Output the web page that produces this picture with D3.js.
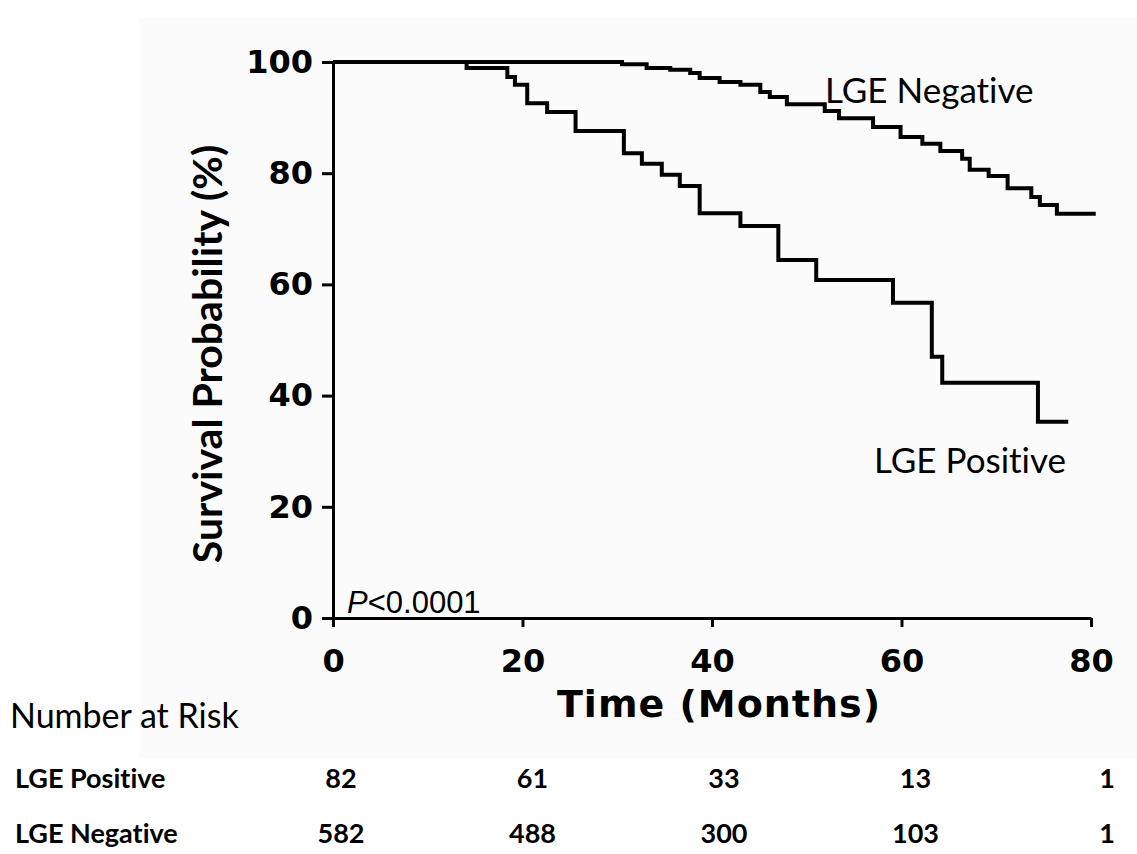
<!DOCTYPE html>
<html>
<head>
<meta charset="utf-8">
<script src="https://cdn.jsdelivr.net/npm/d3@7"></script>
<style>
  body { margin: 0; background: #fff; }
  svg { display: block; }
  text { font-variant-ligatures: none; }
</style>
</head>
<body>
<div id="chart"></div>
<script>
// survival curves (months, %)
const posTimes = [0, 14.1, 18.4, 19.2, 20.5, 22.6, 25.6, 30.7, 32.6, 34.7, 36.6, 38.7, 43.0, 47.0, 51.0, 59.1, 63.2, 64.3, 74.4, 77.6];
const posSurv = [100, 98.9, 97.3, 95.9, 92.6, 91.0, 87.6, 83.6, 81.7, 79.7, 77.7, 72.8, 70.5, 64.4, 60.8, 56.7, 47.0, 42.3, 35.3, 35.3];

const negTimes = [0, 30.5, 33.1, 35.6, 37.7, 38.7, 40.8, 43.0, 45.1, 46.1, 47.9, 51.9, 53.4, 57.0, 59.9, 62.2, 64.1, 66.4, 67.2, 69.2, 71.2, 73.7, 74.6, 76.4, 80.5];
const negSurv = [100, 99.6, 98.9, 98.6, 98.0, 97.1, 96.4, 95.9, 94.6, 93.7, 92.4, 91.2, 89.9, 88.3, 86.5, 85.3, 84.0, 82.6, 80.6, 79.5, 77.3, 75.7, 74.3, 72.7, 72.7];

const timeTicks = [0, 20, 40, 60, 80];
const survTicks = [0, 20, 40, 60, 80, 100];

const riskTimes = [0, 20, 40, 60, 80];
const riskPositive = [82, 61, 33, 13, 1];
const riskNegative = [582, 488, 300, 103, 1];

const width = 1137;
const height = 854;
const numFont = "'DejaVu Sans', Verdana, sans-serif";
const textFont = "Lato, 'Open Sans', sans-serif";

const svg = d3.select("#chart").append("svg")
  .attr("width", width)
  .attr("height", height);

// faint grey panel behind the plot
svg.append("rect")
  .attr("x", 139).attr("y", 18)
  .attr("width", width - 139).attr("height", 740)
  .attr("fill", "#fbfbfb");

const x = d3.scaleLinear().domain([0, 80]).range([333, 1091]);
const y = d3.scaleLinear().domain([0, 100]).range([618, 62]);

const yAxis = svg.append("g")
  .attr("transform", "translate(" + x(0) + ",0)")
  .call(d3.axisLeft(y).tickValues(survTicks).tickSize(11).tickSizeOuter(0).tickPadding(9));

const xAxis = svg.append("g")
  .attr("transform", "translate(0," + y(0) + ")")
  .call(d3.axisBottom(x).tickValues(timeTicks).tickSize(9).tickSizeOuter(0).tickPadding(22));

[yAxis, xAxis].forEach(g => {
  g.select(".domain").attr("stroke", "#000").attr("stroke-width", 3);
  g.selectAll(".tick line").attr("stroke", "#000").attr("stroke-width", 3);
  g.selectAll(".tick text")
    .attr("fill", "#000")
    .style("font-family", numFont)
    .style("font-weight", "bold")
    .style("font-size", "32px");
});

// axis titles
svg.append("text")
  .attr("x", 719)
  .attr("y", 717)
  .attr("text-anchor", "middle")
  .style("font-family", numFont)
  .style("font-weight", "bold")
  .style("font-size", "38px")
  .style("letter-spacing", "1px")
  .text("Time (Months)");

svg.append("text")
  .attr("transform", "translate(222,354) rotate(-90)")
  .attr("text-anchor", "middle")
  .style("font-family", textFont)
  .style("font-weight", "bold")
  .style("font-size", "41px")
  .text("Survival Probability (%)");

// step curves
const line = d3.line()
  .curve(d3.curveStepAfter)
  .x(d => x(d[0]))
  .y(d => y(d[1]));

[[posTimes, posSurv], [negTimes, negSurv]].forEach(([ts, vs]) => {
  svg.append("path")
    .datum(d3.zip(ts, vs))
    .attr("fill", "none")
    .attr("stroke", "#000")
    .attr("stroke-width", 4)
    .attr("d", line);
});

// curve labels
svg.append("text")
  .attr("x", 825).attr("y", 103)
  .style("font-family", textFont)
  .style("font-size", "35px")
  .text("LGE Negative");

svg.append("text")
  .attr("x", 874).attr("y", 473)
  .style("font-family", textFont)
  .style("font-size", "35px")
  .text("LGE Positive");

const pText = svg.append("text")
  .attr("x", 347).attr("y", 613)
  .style("font-family", "'Liberation Sans', Arial, sans-serif")
  .style("font-size", "31px");
pText.append("tspan").style("font-style", "italic").text("P");
pText.append("tspan").text("<0.0001");

// number at risk table
svg.append("text")
  .attr("x", 10).attr("y", 728)
  .style("font-family", textFont)
  .style("font-size", "34px")
  .text("Number at Risk");

const rows = [
  { label: "LGE Positive", values: riskPositive, y: 788 },
  { label: "LGE Negative", values: riskNegative, y: 843 }
];

rows.forEach(r => {
  svg.append("text")
    .attr("x", 15).attr("y", r.y)
    .style("font-family", textFont)
    .style("font-weight", "bold")
    .style("font-size", "27px")
    .text(r.label);

  r.values.forEach((v, i) => {
    svg.append("text")
      .attr("x", x(riskTimes[i]) + 8 + i * 2)
      .attr("y", r.y)
      .attr("text-anchor", "middle")
      .style("font-family", textFont)
      .style("font-weight", "bold")
      .style("font-size", "27px")
      .text(v);
  });
});
</script>
</body>
</html>
